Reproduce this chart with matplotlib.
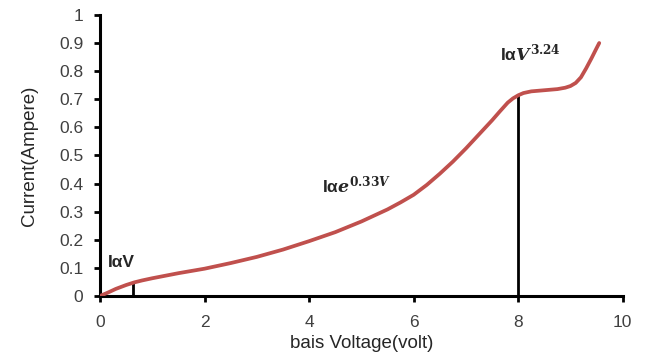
import numpy as np
import matplotlib
matplotlib.use("Agg")
import matplotlib.pyplot as plt

# I-V curve
voltage = [0, 0.15, 0.3, 0.5, 0.65, 0.8, 1.0, 1.25, 1.5, 1.75, 2.0, 2.5, 3.0,
           3.5, 4.0, 4.5, 5.0, 5.5, 5.75, 6.0, 6.25, 6.5, 6.75, 7.0, 7.25, 7.5,
           7.65, 7.8, 7.9, 8.0, 8.1, 8.25, 8.5, 8.75, 8.9, 9.0, 9.1, 9.2, 9.3,
           9.4, 9.5, 9.55]
current = [0, 0.012, 0.025, 0.039, 0.048, 0.055, 0.063, 0.072, 0.081, 0.089,
           0.097, 0.117, 0.139, 0.165, 0.195, 0.227, 0.265, 0.308, 0.333, 0.36,
           0.395, 0.435, 0.478, 0.525, 0.575, 0.625, 0.657, 0.688, 0.703, 0.714,
           0.722, 0.728, 0.732, 0.736, 0.741, 0.747, 0.758, 0.778, 0.81, 0.845,
           0.882, 0.90]

x_ticks = [0, 2, 4, 6, 8, 10]
y_ticks = [0, 0.1, 0.2, 0.3, 0.4, 0.5, 0.6, 0.7, 0.8, 0.9, 1]
y_tick_labels = ["0", "0.1", "0.2", "0.3", "0.4", "0.5", "0.6", "0.7", "0.8", "0.9", "1"]

# region boundaries (vertical markers)
marker_v = [0.62, 8.0]
marker_i = [0.047, 0.714]

plt.rcParams['font.family'] = ['Liberation Sans', 'DejaVu Sans']
plt.rcParams['mathtext.fontset'] = 'custom'
plt.rcParams['mathtext.it'] = 'DejaVu Serif:italic:bold'
plt.rcParams['mathtext.rm'] = 'DejaVu Serif:bold'

fig = plt.figure(figsize=(6.46, 3.64), dpi=100)
ax = fig.add_axes([0.155, 0.187, 0.809, 0.772])

ax.plot(voltage, current, color='#C0504D', lw=2.7, solid_capstyle='round',
        solid_joinstyle='round', zorder=3)
ax.vlines(marker_v, 0, marker_i, colors='black', lw=2, zorder=2)

ax.set_xlim(0, 10)
ax.set_ylim(0, 1)
ax.set_xticks(x_ticks)
ax.set_yticks(y_ticks)
ax.set_yticklabels(y_tick_labels)

for s in ['top', 'right']:
    ax.spines[s].set_visible(False)
for s in ['left', 'bottom']:
    ax.spines[s].set_linewidth(2.2)
ax.tick_params(width=2, length=4, labelsize=12.5, colors='black', labelcolor='#404040')
ax.tick_params(axis='x', pad=10)
ax.tick_params(axis='y', pad=8)

ax.set_xlabel("bais Voltage(volt)", fontsize=13.5, labelpad=3, color='#262626')
ax.set_ylabel("Current(Ampere)", fontsize=13.5, labelpad=15, color='#262626')

ax.text(0.15, 0.12, "Iα" + "V", fontsize=12.5, fontweight='bold', va='center', color='#262626')
ax.text(4.25, 0.395, "Iα" + r"$e^{0.33V}$", fontsize=12.5, fontweight='bold', va='center', color='#262626')
ax.text(7.65, 0.865, "Iα" + r"$V^{3.24}$", fontsize=12.5, fontweight='bold', va='center', color='#262626')

fig.savefig("out.png", dpi=100)
